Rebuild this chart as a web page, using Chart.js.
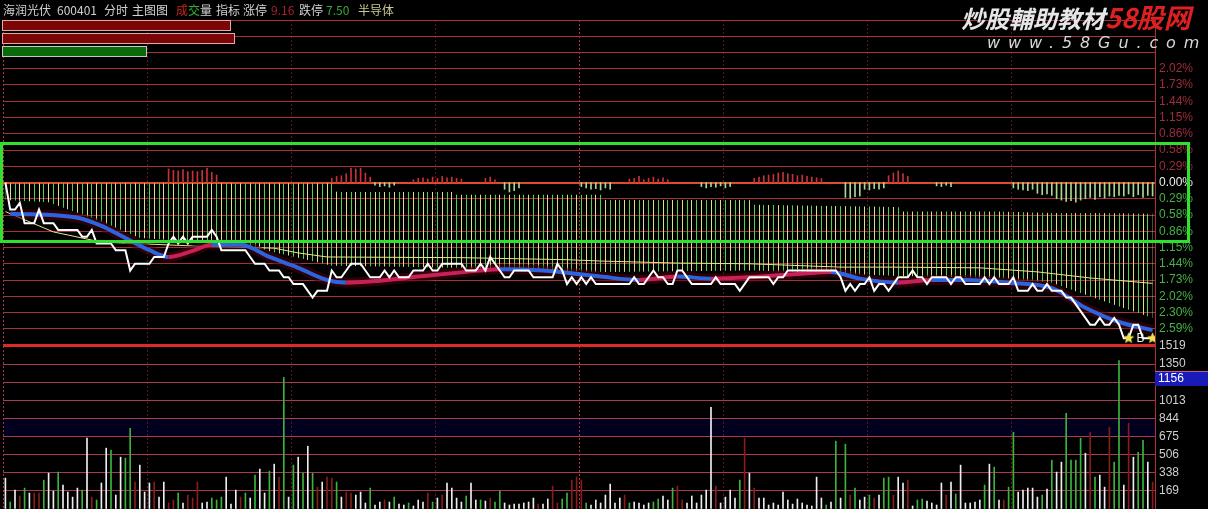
<!DOCTYPE html>
<html>
<head>
<meta charset="utf-8">
<title>海润光伏 分时</title>
<script src="https://cdn.jsdelivr.net/npm/chart.js@4.4.1/dist/chart.umd.min.js"></script>
<style>
  body { margin: 0; background: #000; }
  #wrap { position: relative; width: 1208px; height: 509px; overflow: hidden; background: #000; }
  #priceChart, #volChart { position: absolute; left: 0; }
  #priceChart { top: 0; }
  #volChart { top: 330px; }
  .t { position: absolute; top: 2px; font: 12px "Noto Sans CJK SC", "Liberation Sans", sans-serif; color: #d2d2d2; white-space: nowrap; line-height: 16px; }
  .bar { position: absolute; left: 2px; height: 9px; border: 1px solid #e0a8a8; background: #7c0606; }
  #box { position: absolute; left: 0; top: 142px; width: 1190px; height: 101px; box-sizing: border-box; border: 3px solid #2fe02f; }
  #wm1 { position: absolute; left: 961px; top: 1px; font: italic bold 24px "Noto Sans CJK SC", sans-serif; color: #e6e6e6; white-space: nowrap; line-height: 32px; }
  #wm1 span { color: #e02020; font-size: 27px; }
  #wm2 { position: absolute; left: 987px; top: 33px; font: italic 16px "DejaVu Sans", sans-serif; color: #d8d8d8; letter-spacing: 7.9px; white-space: nowrap; }
</style>
</head>
<body>
<div id="wrap">
  <canvas id="priceChart" width="1208" height="346"></canvas>
  <canvas id="volChart" width="1208" height="179"></canvas>

  <div class="t" style="left:3px">海润光伏</div>
  <div class="t" style="left:57px">600401</div>
  <div class="t" style="left:104px">分时</div>
  <div class="t" style="left:132px">主图图</div>
  <div class="t" style="left:176px"><span style="color:#d02020">成</span><span style="color:#30b030">交</span>量</div>
  <div class="t" style="left:216px">指标</div>
  <div class="t" style="left:243px">涨停</div>
  <div class="t" style="left:271px;color:#a8202c">9.16</div>
  <div class="t" style="left:299px">跌停</div>
  <div class="t" style="left:326px;color:#3aa83a">7.50</div>
  <div class="t" style="left:358px;color:#c8c890">半导体</div>

  <div id="wm1">炒股輔助教材<span>58股网</span></div>
  <div id="wm2">www.58Gu.com</div>

  <div class="bar" style="top:20px;width:227px"></div>
  <div class="bar" style="top:33px;width:231px"></div>
  <div class="bar" style="top:46px;width:143px;background:#0a6a0a;border-color:#c8c8c8"></div>

  <div id="box"></div>
</div>

<script>
// 昨收 8.33，每格 0.024 元（0.29%）
const prevClose = 8.33;
const priceStep = 0.024;

// 右侧刻度文字（从上到下）
const pctTickLabels = ['', '', '', '2.02%', '1.73%', '1.44%', '1.15%', '0.86%', '0.58%', '0.29%', '0.00%',
  '0.29%', '0.58%', '0.86%', '1.15%', '1.44%', '1.73%', '2.02%', '2.30%', '2.59%', ''];
const volTickValues = [0, 169, 338, 506, 675, 844, 1013, 1182, 1350, 1519];
const volTickLabels = ['', '169', '338', '506', '675', '844', '1013', '1182', '1350', '1519'];
const gridMinutes = [-0.5, 29.5, 59.5, 89.5, 119.5, 149.5, 179.5, 209.5, 239.5];

// 分时价格（240 分钟）
const price = [
  8.33, 8.29, 8.29, 8.30, 8.27, 8.27, 8.27, 8.29, 8.27, 8.27,
  8.27, 8.26, 8.26, 8.26, 8.26, 8.26, 8.25, 8.25, 8.26, 8.24,
  8.24, 8.24, 8.24, 8.23, 8.23, 8.23, 8.20, 8.21, 8.21, 8.21,
  8.21, 8.22, 8.22, 8.22, 8.24, 8.25, 8.24, 8.25, 8.24, 8.25,
  8.25, 8.25, 8.25, 8.26, 8.25, 8.23, 8.23, 8.23, 8.23, 8.23,
  8.23, 8.22, 8.21, 8.21, 8.21, 8.20, 8.20, 8.20, 8.19, 8.19,
  8.18, 8.18, 8.18, 8.17, 8.16, 8.17, 8.17, 8.17, 8.20, 8.19,
  8.19, 8.20, 8.21, 8.21, 8.21, 8.20, 8.19, 8.19, 8.19, 8.20,
  8.19, 8.20, 8.19, 8.19, 8.19, 8.20, 8.20, 8.20, 8.21, 8.20,
  8.20, 8.21, 8.21, 8.21, 8.21, 8.21, 8.20, 8.20, 8.20, 8.21,
  8.20, 8.22, 8.21, 8.20, 8.19, 8.19, 8.20, 8.20, 8.20, 8.20,
  8.19, 8.19, 8.19, 8.19, 8.19, 8.21, 8.20, 8.18, 8.19, 8.18,
  8.19, 8.18, 8.19, 8.18, 8.18, 8.18, 8.18, 8.18, 8.18, 8.18,
  8.18, 8.19, 8.18, 8.18, 8.19, 8.20, 8.19, 8.19, 8.18, 8.18,
  8.20, 8.20, 8.19, 8.18, 8.18, 8.18, 8.18, 8.18, 8.19, 8.18,
  8.18, 8.18, 8.18, 8.17, 8.18, 8.19, 8.19, 8.19, 8.19, 8.19,
  8.18, 8.19, 8.19, 8.20, 8.20, 8.20, 8.20, 8.20, 8.20, 8.20,
  8.20, 8.20, 8.20, 8.20, 8.19, 8.17, 8.18, 8.17, 8.18, 8.18,
  8.19, 8.17, 8.18, 8.18, 8.17, 8.18, 8.19, 8.19, 8.19, 8.20,
  8.19, 8.19, 8.18, 8.19, 8.19, 8.19, 8.19, 8.18, 8.19, 8.19,
  8.18, 8.18, 8.18, 8.18, 8.19, 8.18, 8.19, 8.18, 8.18, 8.18,
  8.19, 8.17, 8.17, 8.17, 8.18, 8.17, 8.17, 8.18, 8.17, 8.17,
  8.17, 8.16, 8.16, 8.15, 8.14, 8.13, 8.12, 8.12, 8.13, 8.12,
  8.12, 8.13, 8.12, 8.10, 8.10, 8.12, 8.12, 8.10, 8.10, 8.10
];

// 粗均线（蓝/红）
const maX = [1, 15, 20, 25, 30, 34, 39, 43, 49, 55, 61, 67, 71, 78, 86, 96, 103, 112, 124, 132, 140, 147, 155, 165, 172, 178, 186, 193, 200, 209, 218, 225, 232, 239];
const maY = [8.284, 8.278, 8.266, 8.248, 8.230, 8.220, 8.229, 8.238, 8.238, 8.220, 8.204, 8.186, 8.182, 8.185, 8.191, 8.198, 8.202, 8.200, 8.191, 8.186, 8.191, 8.188, 8.190, 8.195, 8.198, 8.188, 8.182, 8.186, 8.186, 8.182, 8.174, 8.145, 8.124, 8.112];

// 黄色细线
const avgX = [0, 10, 20, 40, 56, 61, 67, 95, 117, 124, 140, 155, 174, 185, 203, 215, 226, 239];
const avgY = [8.287, 8.257, 8.242, 8.236, 8.233, 8.226, 8.220, 8.219, 8.216, 8.214, 8.211, 8.210, 8.205, 8.205, 8.204, 8.198, 8.189, 8.181];

// 绿色柱带的上沿、下沿
const bandX = [0, 9, 20, 28, 41, 51, 61, 68, 69, 93, 94, 124, 125, 155, 156, 186, 187, 207, 218, 228, 239];
const bandTop = [8.329, 8.329, 8.329, 8.329, 8.329, 8.329, 8.329, 8.329, 8.316, 8.316, 8.312, 8.312, 8.304, 8.304, 8.297, 8.294, 8.287, 8.287, 8.285, 8.285, 8.284];
const bandBot = [8.304, 8.301, 8.272, 8.248, 8.242, 8.235, 8.219, 8.207, 8.207, 8.204, 8.204, 8.198, 8.198, 8.200, 8.200, 8.192, 8.192, 8.189, 8.182, 8.157, 8.130];

// 零轴附近的红绿小柱
const flowX = [34, 35, 36, 37, 38, 39, 40, 41, 42, 43, 44,
  68, 69, 70, 71, 72, 73, 74, 75, 76, 77, 78, 79, 80, 81,
  85, 86, 87, 88, 89, 90, 91, 92, 93, 94, 95, 100, 101, 102, 104, 105, 106, 107,
  120, 121, 122, 123, 124, 125, 126, 130, 131, 132, 133, 134, 135, 136, 137, 138,
  145, 146, 147, 148, 149, 150, 151,
  156, 157, 158, 159, 160, 161, 162, 163, 164, 165, 166, 167, 168, 169, 170,
  175, 176, 177, 178, 179, 180, 181, 182, 183, 184, 185, 186, 187, 188, 194, 195, 196, 197,
  210, 211, 212, 213, 214, 215, 216, 217, 218, 219, 220, 221, 222, 223, 224, 225, 226, 227, 228, 229,
  230, 231, 232, 233, 234, 235, 236, 237, 238, 239];
const flowVal = [0.020, 0.018, 0.017, 0.019, 0.016, 0.017, 0.016, 0.018, 0.021, 0.015, 0.011,
  0.006, 0.009, 0.010, 0.013, 0.021, 0.020, 0.021, 0.014, 0.008, -0.004, -0.006, -0.005, -0.007, -0.004,
  0.004, 0.006, 0.007, 0.005, 0.008, 0.006, 0.009, 0.007, 0.008, 0.006, 0.005, 0.006, 0.008, 0.004, -0.010, -0.014, -0.012, -0.008,
  -0.006, -0.008, -0.010, -0.009, -0.011, -0.008, -0.010, 0.005, 0.006, 0.009, 0.004, 0.006, 0.008, 0.005, 0.007, 0.004,
  -0.006, -0.008, -0.006, -0.007, -0.005, -0.008, -0.006,
  0.006, 0.008, 0.010, 0.011, 0.012, 0.014, 0.015, 0.013, 0.012, 0.010, 0.011, 0.009, 0.008, 0.007, 0.006,
  -0.022, -0.023, -0.021, -0.020, -0.010, -0.011, -0.009, -0.010, -0.008, 0.010, 0.014, 0.017, 0.013, 0.009, -0.005, -0.006, -0.004, -0.006,
  -0.008, -0.010, -0.011, -0.012, -0.010, -0.016, -0.018, -0.017, -0.019, -0.024, -0.026, -0.028, -0.027, -0.029, -0.026, -0.024, -0.022, -0.025, -0.021, -0.023,
  -0.020, -0.021, -0.019, -0.020, -0.017, -0.021, -0.018, -0.022, -0.019, -0.020];

// 成交量（手）与柱色：w 白，g 绿，r 红
const volume = [
  288, 65, 176, 121, 195, 149, 149, 149, 269, 334,
  167, 344, 223, 158, 111, 195, 176, 660, 111, 84,
  242, 567, 548, 130, 483, 474, 752, 251, 409, 158,
  242, 251, 111, 251, 56, 84, 149, 56, 130, 102,
  251, 56, 65, 102, 84, 111, 297, 46, 176, 111,
  149, 102, 316, 372, 149, 353, 418, 297, 1226, 111,
  409, 483, 334, 585, 334, 204, 251, 297, 288, 251,
  111, 158, 149, 130, 158, 56, 195, 37, 65, 84,
  65, 111, 46, 37, 56, 28, 84, 65, 149, 65,
  102, 130, 242, 195, 102, 65, 121, 242, 84, 84,
  74, 102, 65, 167, 56, 37, 46, 46, 56, 65,
  102, 46, 46, 93, 214, 56, 93, 149, 269, 300,
  269, 56, 37, 84, 56, 130, 232, 56, 102, 130,
  56, 65, 56, 37, 56, 65, 93, 121, 84, 195,
  214, 84, 56, 121, 56, 130, 176, 948, 214, 56,
  111, 176, 102, 269, 660, 334, 195, 102, 102, 37,
  56, 37, 158, 84, 46, 93, 56, 37, 28, 297,
  102, 37, 65, 632, 102, 604, 130, 195, 84, 111,
  130, 102, 130, 288, 297, 130, 297, 242, 269, 28,
  84, 93, 74, 56, 37, 242, 130, 251, 139, 409,
  56, 56, 65, 84, 223, 418, 390, 84, 84, 204,
  715, 158, 176, 195, 195, 111, 130, 186, 455, 344,
  437, 892, 455, 455, 660, 520, 715, 297, 316, 204,
  761, 437, 1384, 223, 799, 483, 529, 641, 437, 250
];
const volSide = (
  'wgwrgwrrgw' + 'wgwwwwgwrg' + 'wwgwwggrww' + 'wrwwrrgwrr' + 'rwwgggwwwr' +
  'gwgwwgwrgw' + 'gwgwgrwrrg' + 'wrrwwwgwwr' + 'wgwwgwwwrg' + 'wrwwwwgwwg' +
  'wrggwwwwww' + 'wrwwrrggrr' + 'rgwwwwwwwr' + 'gwwwwggwwg' + 'rrwwwwwwrw' +
  'wwwgrwrwww' + 'wwwwwwwwww' + 'wgwgwgrgww' + 'grwggrwwrw' + 'ggwwwwrwgw' +
  'wwwwgwgwrg' + 'gwwwwwgwgw' + 'wggggwrgww' + 'rggwrwggwr'
).split('');

// 标记点（星形）与 B 字
const markX = [234, 239];
const markY = [8.10, 8.10];
const markText = 'B';
const markTextX = 236.5;
const curVolume = 1156;
const volBand = [675, 844];   // 量区的深蓝底色带

const gridRed = '#a8303c';
const COLORS = { w: '#eeeeee', g: '#3cb43c', r: '#8a1c1c' };

Chart.defaults.font.family = '"Liberation Sans", Arial, sans-serif';
Chart.defaults.font.size = 12;

function makeStar(size, color) {
  const c = document.createElement('canvas');
  c.width = c.height = size;
  const g = c.getContext('2d');
  const r = size / 2;
  g.beginPath();
  for (let k = 0; k < 10; k++) {
    const rad = k % 2 ? r * 0.42 : r - 0.5;
    const a = -Math.PI / 2 + k * Math.PI / 5;
    g.lineTo(r + rad * Math.cos(a), r + rad * Math.sin(a));
  }
  g.closePath();
  g.fillStyle = color;
  g.fill();
  return c;
}

// 每分钟一根的竖纹（4.8px 间距，10 根一循环）
function makeStripes(ctx) {
  const tile = document.createElement('canvas');
  tile.width = 48;
  tile.height = 4;
  const g = tile.getContext('2d');
  for (let k = 0; k < 10; k++) {
    const x = Math.floor((5.4 + 4.8 * k) % 48);
    g.fillStyle = k % 2 ? '#dede84' : '#52d052';
    g.fillRect(x, 0, 1, 4);
  }
  return ctx.createPattern(tile, 'repeat');
}

const xScale = () => ({
  type: 'linear',
  min: -0.5,
  max: 239.5,
  offset: false,
  afterBuildTicks: ax => { ax.ticks = gridMinutes.map(v => ({ value: v })); },
  afterFit: ax => { ax.height = 0; },
  ticks: { display: false, autoSkip: false },
  grid: {
    offset: false,
    drawTicks: false,
    color: c => {
      const v = c.tick ? c.tick.value : null;
      return (v === 119.5 || v === -0.5) ? '#b8303e' : '#5e1620';
    }
  },
  border: { display: false, dash: [2, 2] }
});

const priceCanvas = document.getElementById('priceChart');
const stripes = makeStripes(priceCanvas.getContext('2d'));
const starImg = makeStar(13, '#f2e24a');

const markLabel = {
  id: 'markLabel',
  afterDatasetsDraw(chart) {
    const { ctx, scales } = chart;
    ctx.save();
    ctx.fillStyle = '#f0f0f0';
    ctx.font = '12px "Liberation Sans", Arial, sans-serif';
    ctx.textAlign = 'center';
    ctx.textBaseline = 'middle';
    ctx.fillText(markText, scales.x.getPixelForValue(markTextX), scales.y.getPixelForValue(markY[0]));
    ctx.restore();
  }
};

const idx = c => (typeof c.index === 'number' ? c.index : -1);

new Chart(priceCanvas, {
  type: 'line',
  data: {
    datasets: [
      {
        data: price.map((p, i) => ({ x: i, y: p })),
        borderColor: '#ffffff', borderWidth: 2, pointRadius: 0, tension: 0, order: 1
      },
      {
        data: markX.map((x, k) => ({ x, y: markY[k] })),
        showLine: false, pointStyle: starImg, pointRadius: 6, order: 0
      },
      {
        data: maX.map((x, k) => ({ x, y: maY[k] })),
        borderColor: '#2c64e0', borderWidth: 4, pointRadius: 0,
        cubicInterpolationMode: 'monotone',
        segment: { borderColor: c => c.p1.parsed.y > c.p0.parsed.y ? '#c8205a' : '#2c64e0' },
        order: 2
      },
      {
        data: maX.map((x, k) => ({ x, y: maY[k] })),
        borderColor: 'rgba(80,0,10,0.55)', borderWidth: 10, pointRadius: 0,
        cubicInterpolationMode: 'monotone', order: 3
      },
      {
        data: avgX.map((x, k) => ({ x, y: avgY[k] })),
        borderColor: '#e6e68c', borderWidth: 1, pointRadius: 0, tension: 0, order: 4
      },
      {
        type: 'bar',
        data: flowX.map((x, k) => ({ x, y: [prevClose, prevClose + flowVal[k]] })),
        backgroundColor: flowVal.map(v => v > 0 ? '#c83236' : '#a8d890'),
        barThickness: 1, order: 5
      },
      {
        data: bandX.map((x, k) => ({ x, y: bandTop[k] })),
        borderWidth: 0, pointRadius: 0, tension: 0, fill: false, order: 7
      },
      {
        data: bandX.map((x, k) => ({ x, y: bandBot[k] })),
        borderWidth: 0, pointRadius: 0, tension: 0, fill: '-1', backgroundColor: stripes, order: 6
      }
    ]
  },
  options: {
    responsive: false,
    animation: false,
    devicePixelRatio: 1,
    layout: { autoPadding: false, padding: { left: 3, top: 20, right: 0, bottom: 1 } },
    plugins: { legend: { display: false }, tooltip: { enabled: false } },
    scales: {
      x: xScale(),
      y: {
        position: 'right',
        min: prevClose - 10 * priceStep,
        max: prevClose + 10 * priceStep,
        afterBuildTicks: ax => {
          ax.ticks = pctTickLabels.map((_, j) => ({ value: prevClose + (j - 10) * priceStep }));
        },
        afterFit: ax => { ax.width = 53; ax.paddingTop = 0; ax.paddingBottom = 0; },
        ticks: {
          autoSkip: false,
          padding: 4,
          callback: (v, j) => pctTickLabels[20 - j],
          color: c => idx(c) > 10 ? '#9e2c3c' : (idx(c) === 10 ? '#eeeeee' : '#46b046')
        },
        grid: {
          drawTicks: false,
          color: c => idx(c) === 10 ? '#e04a30' : (idx(c) === 0 ? '#e02828' : gridRed),
          lineWidth: c => (idx(c) === 10 || idx(c) === 0) ? 2 : 1
        },
        border: { display: true, color: gridRed }
      }
    }
  },
  plugins: [markLabel]
});

const volBackdrop = {
  id: 'volBackdrop',
  beforeDraw(chart) {
    const { ctx, chartArea, scales } = chart;
    const yTop = scales.y.getPixelForValue(volBand[1]);
    const yBot = scales.y.getPixelForValue(volBand[0]);
    ctx.save();
    ctx.fillStyle = '#00001e';
    ctx.fillRect(chartArea.left, yTop, chartArea.right - chartArea.left, yBot - yTop);
    ctx.restore();
  }
};

const curBox = {
  id: 'curBox',
  afterDraw(chart) {
    const { ctx, scales } = chart;
    const y = scales.y.getPixelForValue(curVolume);
    ctx.save();
    ctx.fillStyle = '#1a1ab8';
    ctx.fillRect(1155, y - 14, 53, 15);
    ctx.fillStyle = '#c86080';
    ctx.fillRect(1155, y - 14, 53, 1);
    ctx.fillStyle = '#ffffff';
    ctx.font = '12px "Liberation Sans", Arial, sans-serif';
    ctx.textBaseline = 'middle';
    ctx.fillText(String(curVolume), 1158, y - 6);
    ctx.restore();
  }
};

new Chart(document.getElementById('volChart'), {
  type: 'bar',
  data: {
    datasets: [{
      data: volume.map((v, i) => ({ x: i, y: v })),
      backgroundColor: volSide.map(s => COLORS[s]),
      barThickness: 1
    }]
  },
  options: {
    responsive: false,
    animation: false,
    devicePixelRatio: 1,
    layout: { autoPadding: false, padding: { left: 3, top: 16, right: 0, bottom: 0 } },
    plugins: { legend: { display: false }, tooltip: { enabled: false } },
    scales: {
      x: xScale(),
      y: {
        position: 'right',
        min: 0,
        max: 1519,
        afterBuildTicks: ax => { ax.ticks = volTickValues.map(v => ({ value: v })); },
        afterFit: ax => { ax.width = 53; ax.paddingTop = 0; ax.paddingBottom = 0; },
        ticks: {
          autoSkip: false,
          padding: 4,
          color: '#cfcfcf',
          callback: (v, j) => volTickLabels[j]
        },
        grid: {
          drawTicks: false,
          color: c => idx(c) === volTickValues.length - 1 ? '#e02828' : '#a83a52',
          lineWidth: c => idx(c) === volTickValues.length - 1 ? 2 : 1
        },
        border: { display: true, color: gridRed }
      }
    }
  },
  plugins: [volBackdrop, curBox]
});
</script>
</body>
</html>
